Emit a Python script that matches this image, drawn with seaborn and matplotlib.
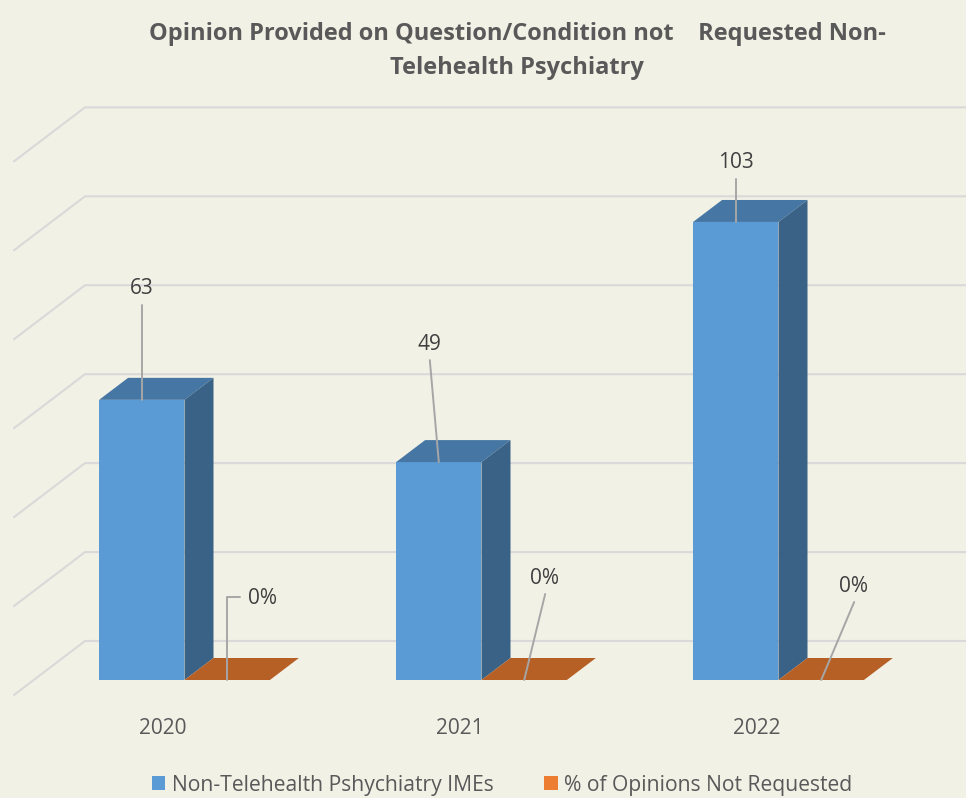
import matplotlib
matplotlib.use("Agg")
import matplotlib.pyplot as plt
from matplotlib.patches import Polygon
from matplotlib.colors import to_rgb
import pandas as pd
import seaborn as sns

# ---- data ----
years = ["2020", "2021", "2022"]
imes = [63, 49, 103]
pct_not_requested = [0, 0, 0]
series_names = ["Non-Telehealth Pshychiatry IMEs", "% of Opinions Not Requested"]
grid_values = [0, 20, 40, 60, 80, 100, 120]
title = "Opinion Provided on Question/Condition not    Requested Non-\nTelehealth Psychiatry"

# ---- style / layout ----
BG = "#F2F1E6"
GRID = "#D9D9D9"
TEXT = "#595959"
LABEL = "#404040"
LEADER = "#A6A6A6"
W, H = 966, 798
BASE_PX = 680          # pixel row of value 0 on the bars' front face
AX_BOTTOM_PX = 705
PX_PER_UNIT = 4.447
PX_PER_CAT = 297
GROUP0_PX = 184.5
DEPTH_X, DEPTH_Y = 29, 22   # bar depth in pixels
WALL_RISE = 39              # back wall floor above bar base, px
FLOOR_X, FLOOR_Y = 71, 54   # side-wall diagonal, px

sns.set_theme(style="white")
plt.rcParams["font.family"] = ["Open Sans", "DejaVu Sans"]

df = pd.concat([
    pd.DataFrame({"year": years, "value": imes, "series": series_names[0]}),
    pd.DataFrame({"year": years, "value": pct_not_requested, "series": series_names[1]}),
])

fig = plt.figure(figsize=(W / 100, H / 100), dpi=100, facecolor=BG)
ax = fig.add_axes([0, (H - AX_BOTTOM_PX) / H, 1, AX_BOTTOM_PX / H], facecolor=BG)

sns.barplot(data=df, x="year", y="value", hue="series", order=years,
            palette=["#5B9BD5", "#ED7D31"], width=0.575, gap=0,
            saturation=1, linewidth=0, ax=ax, zorder=3, legend=True)

ax.set_xlim(-GROUP0_PX / PX_PER_CAT, (W - GROUP0_PX) / PX_PER_CAT)
ax.set_ylim(-(AX_BOTTOM_PX - BASE_PX) / PX_PER_UNIT, BASE_PX / PX_PER_UNIT)

dx = DEPTH_X / PX_PER_CAT
dy = DEPTH_Y / PX_PER_UNIT


def shade(col, f):
    return tuple(c * f for c in to_rgb(col))


# gridlines: back wall plus left side-wall diagonals
rise = WALL_RISE / PX_PER_UNIT
x_wall = (FLOOR_X + 14 - GROUP0_PX) / PX_PER_CAT
x_front = (14 - GROUP0_PX) / PX_PER_CAT
for v in grid_values:
    y = v + rise
    ax.plot([x_front, x_wall, ax.get_xlim()[1]],
            [y - FLOOR_Y / PX_PER_UNIT, y, y],
            color=GRID, lw=1.5, zorder=1, solid_joinstyle="miter")

# 3D faces derived from each bar
for bar in list(ax.patches):
    h = bar.get_height()
    if bar.get_width() == 0:
        continue
    x0, x1 = bar.get_x(), bar.get_x() + bar.get_width()
    col = bar.get_facecolor()
    top = Polygon([(x0, h), (x0 + dx, h + dy), (x1 + dx, h + dy), (x1, h)],
                  closed=True, fc=shade(col, 0.77), ec="none", zorder=3)
    ax.add_patch(top)
    if h > 0:
        side = Polygon([(x1, 0), (x1 + dx, dy), (x1 + dx, h + dy), (x1, h)],
                       closed=True, fc=shade(col, 0.63), ec="none", zorder=3)
        ax.add_patch(side)

# data labels with leader lines (offsets in pixels)
bars = ax.containers
label_layout = {
    0: [(0, 95, 0), (-9, 102, -9), (0, 43, 0)],
    1: [(0, 83, 13), (21, 86, 21), (33, 78, 33)],
}
for s, (cont, vals) in enumerate(zip(bars, [imes, pct_not_requested])):
    for i, (bar, v) in enumerate(zip(cont, vals)):
        xa = bar.get_x() + bar.get_width() / 2
        ya = bar.get_height()
        ox, oy, ex = label_layout[s][i]
        xl = xa + ox / PX_PER_CAT
        yl = ya + oy / PX_PER_UNIT
        xs = [xa, xl]
        ys = [ya, yl]
        if s == 1 and i == 0:
            xs.append(xa + ex / PX_PER_CAT)
            ys.append(yl)
        ax.plot(xs, ys, color=LEADER, lw=1.4, zorder=4)
        txt = f"{v}%" if s == 1 else f"{v}"
        if s == 1 and i == 0:
            ax.annotate(txt, (xs[-1], ys[-1]), xytext=(8, -2), textcoords="offset pixels",
                        ha="left", va="center", fontsize=15, color=LABEL, zorder=5)
        else:
            ax.annotate(txt, (xl, yl), xytext=(-1 if s == 1 else 0, 16), textcoords="offset pixels",
                        ha="center", va="center", fontsize=15, color=LABEL, zorder=5)

ax.set_xticks([i - 22 / PX_PER_CAT for i in range(len(years))])
ax.set_xticklabels(years, fontsize=15, color=TEXT)
ax.tick_params(axis="x", length=0, pad=9.5)
ax.set_yticks([])
ax.set_xlabel("")
ax.set_ylabel("")
sns.despine(ax=ax, left=True, bottom=True, top=True, right=True)

ax.set_title(title, x=517 / W, y=1.0, pad=-53.5, fontsize=17, fontweight="bold",
             color=TEXT, linespacing=1.6)

handles, labels = ax.get_legend_handles_labels()
ax.legend(handles, labels, loc="center", bbox_to_anchor=(502 / W, 1 - 785 / H),
          bbox_transform=fig.transFigure, ncol=2, frameon=False, fontsize=15.2,
          labelcolor=TEXT, handlelength=0.65, handleheight=0.65, handletextpad=0.3,
          columnspacing=2.4, borderpad=0)

fig.savefig("out.png", dpi=100, facecolor=BG)
